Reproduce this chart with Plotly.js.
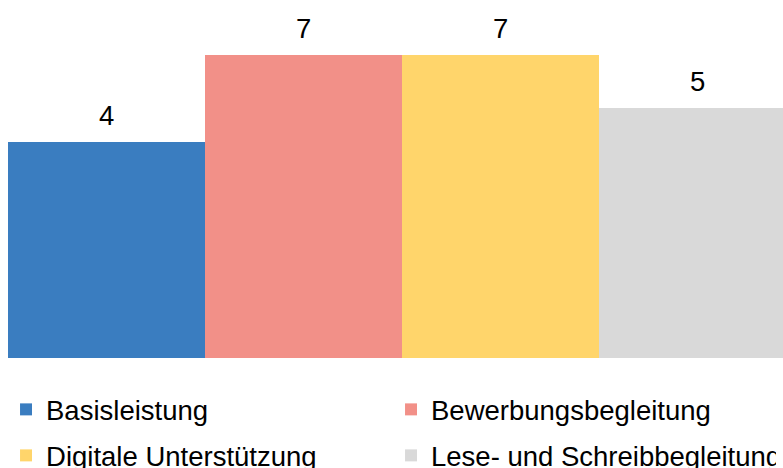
<!DOCTYPE html>
<html>
<head>
<meta charset="utf-8">
<script src="https://cdn.plot.ly/plotly-3.0.1.min.js"></script>
<style>html,body{margin:0;padding:0;background:#fff;}#chart{width:783px;height:468px;}</style>
</head>
<body>
<div id="chart"></div>
<script>
const categories = ["Basisleistung", "Bewerbungsbegleitung", "Digitale Unterstützung", "Lese- und Schreibbegleitung"];
const values = [4, 7, 7, 5];
const colors = ["#3A7DC0", "#F29088", "#FFD56B", "#D9D9D9"];
const legendRows = ["legend", "legend", "legend2", "legend2"];

const FONT = "Liberation Sans, Arial, sans-serif";

const traces = categories.map((c, i) => ({
  type: "bar",
  name: c,
  x: [i],
  y: [values[i]],
  width: 1,
  marker: {color: colors[i], line: {width: 0}},
  hoverinfo: "none",
  legend: legendRows[i]
}));

const annotations = categories.map((c, i) => ({
  x: i, y: Math.log10(values[i]), xref: "x", yref: "y",
  text: String(values[i]),
  showarrow: false,
  xanchor: "center", yanchor: "bottom",
  yshift: 9,
  font: {family: FONT, size: 27.5, color: "#000"}
}));

const legendBase = {
  orientation: "h",
  xref: "container", yref: "container",
  x: 0.0077, xanchor: "left",
  yanchor: "top",
  entrywidth: 340, entrywidthmode: "pixels",
  font: {family: FONT, size: 27.5, color: "#000"},
  bgcolor: "rgba(0,0,0,0)",
  traceorder: "normal"
};

const layout = {
  width: 783, height: 468,
  margin: {l: 8, r: 0, t: 0, b: 110, autoexpand: false},
  paper_bgcolor: "#fff", plot_bgcolor: "#fff",
  barmode: "overlay",
  bargap: 0,
  showlegend: true,
  font: {family: FONT, size: 27.5, color: "#000"},
  xaxis: {visible: false, range: [-0.5, 3.434], fixedrange: true},
  yaxis: {visible: false, type: "log", range: [0, 1], fixedrange: true},
  annotations: annotations,
  legend: Object.assign({}, legendBase, {y: (468 - 385) / 468}),
  legend2: Object.assign({}, legendBase, {y: (468 - 431) / 468})
};

Plotly.newPlot("chart", traces, layout, {staticPlot: true, displayModeBar: false});
</script>
</body>
</html>
